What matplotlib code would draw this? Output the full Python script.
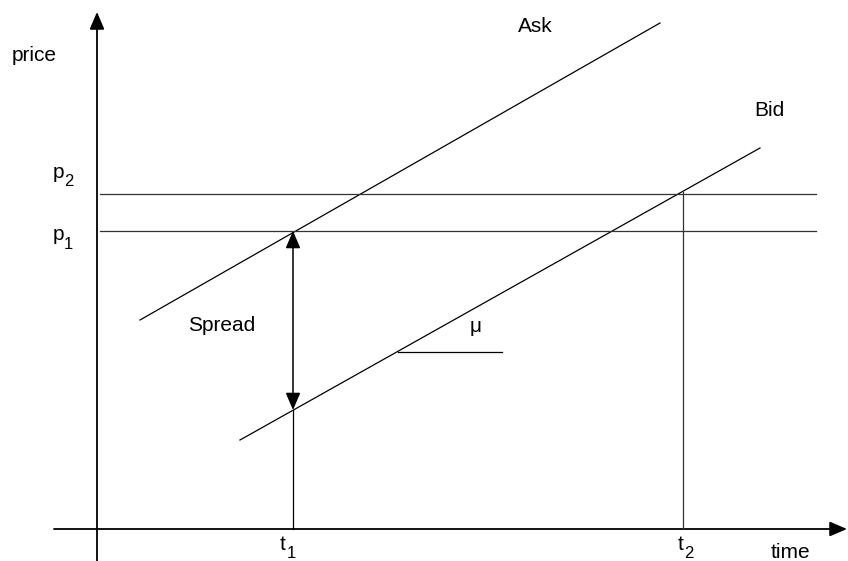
import matplotlib
matplotlib.use("Agg")
import matplotlib.pyplot as plt
from matplotlib.patches import FancyArrowPatch

plt.rcParams['font.family'] = ['Liberation Sans', 'DejaVu Sans']

# Diagram geometry (pixel-like units, y downward)
axis_origin = (97, 529)
y_axis_ends = (561, 12)
x_axis_ends = (54, 847)
ask_line_x = [140, 660]
ask_line_y = [320, 23]
bid_line_x = [240, 760]
bid_line_y = [440, 148]
price_levels = {"p1": 231, "p2": 194}
level_x = [100, 816]
t_marks = {"t1": 293, "t2": 683}
spread_y = [231, 410]
t2_top = 192
mu_line_x = [398, 502]
mu_line_y = 352

fig = plt.figure(figsize=(8.48, 5.61), dpi=100)
ax = fig.add_axes([0, 0, 1, 1])
ax.set_xlim(0, 848)
ax.set_ylim(561, 0)
ax.axis("off")

lw = 0.9
col = "black"

def arrow(p0, p1, lw=1.2):
    a = FancyArrowPatch(p0, p1, arrowstyle="-|>,head_length=7,head_width=3",
                        mutation_scale=1.5, color=col, lw=lw, shrinkA=0, shrinkB=0)
    ax.add_patch(a)

# axes with arrows
arrow((axis_origin[0], y_axis_ends[0]), (axis_origin[0], y_axis_ends[1]), lw=1.3)
arrow((x_axis_ends[0], axis_origin[1]), (x_axis_ends[1], axis_origin[1]), lw=1.3)

# Ask and Bid lines
ax.plot(ask_line_x, ask_line_y, color=col, lw=lw)
ax.plot(bid_line_x, bid_line_y, color=col, lw=lw)

# price levels
for k, y in price_levels.items():
    ax.plot(level_x, [y, y], color="#333333", lw=lw)

# t1 vertical and spread double arrow
x1 = t_marks["t1"]
ax.plot([x1, x1], [axis_origin[1], spread_y[1]], color=col, lw=lw)
a = FancyArrowPatch((x1, spread_y[1]), (x1, spread_y[0]),
                    arrowstyle="<|-|>,head_length=7,head_width=3",
                    mutation_scale=1.5, color=col, lw=1.1, shrinkA=0, shrinkB=0)
ax.add_patch(a)

# t2 vertical
x2 = t_marks["t2"]
ax.plot([x2, x2], [axis_origin[1], t2_top], color="#333333", lw=lw)

# mu slope marker
ax.plot(mu_line_x, [mu_line_y, mu_line_y], color=col, lw=lw)

fs = 15
ax.text(12, 55, "price", fontsize=fs, ha="left", va="center")
ax.text(53, 172, "p", fontsize=fs, ha="left", va="center")
ax.text(64, 181, "2", fontsize=12, ha="left", va="center")
ax.text(53, 234, "p", fontsize=fs, ha="left", va="center")
ax.text(64, 244, "1", fontsize=12, ha="left", va="center")
ax.text(518, 26, "Ask", fontsize=fs, ha="left", va="center")
ax.text(754, 110, "Bid", fontsize=fs, ha="left", va="center")
ax.text(188, 325, "Spread", fontsize=fs, ha="left", va="center")
ax.text(470, 326, "μ", fontsize=fs, ha="left", va="center")
ax.text(280, 544, "t", fontsize=fs, ha="left", va="center")
ax.text(287, 553, "1", fontsize=12, ha="left", va="center")
ax.text(678, 545, "t", fontsize=fs, ha="left", va="center")
ax.text(684, 553, "2", fontsize=12, ha="left", va="center")
ax.text(771, 552, "time", fontsize=fs, ha="left", va="center")

fig.savefig("out.png", dpi=100)
